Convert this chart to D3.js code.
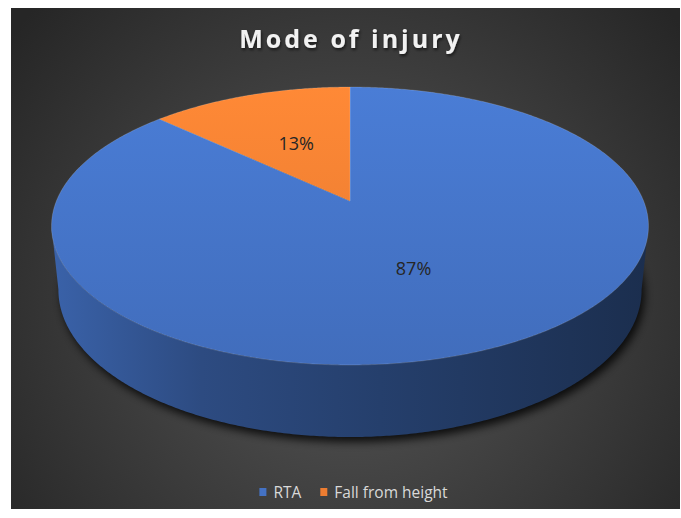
<!DOCTYPE html>
<html>
<head>
<meta charset="utf-8">
<script src="https://cdn.jsdelivr.net/npm/d3@7"></script>
<style>
  body { margin: 0; background: #ffffff; }
  svg { display: block; }
</style>
</head>
<body>
<div id="chart-area"></div>
<script>
// data
const categories = ["RTA", "Fall from height"];
const values = [87, 13];
const labels = ["87%", "13%"];
const colors = ["#4472C4", "#ED7D31"];
const title = "Mode of injury";

const width = 681, height = 518;

// perspective projection of the 3d pie (r = 1 at rim, depth 0 top / 1 bottom)
const cx = 350, cy = 201;
const D = 4.94, F = 1450.5, sinA = 0.458, cosA = Math.sqrt(1 - sinA * sinA), H = 0.247;
function project(theta, r, depth) {
  const u = r * Math.sin(theta), v = r * Math.cos(theta), hh = depth * H;
  const z = D + v * cosA + hh * sinA;
  return [cx + F * u / z, cy + F * (-v * sinA + hh * cosA) / z];
}
const step = Math.PI / 360;
function samples(a0, a1) {
  return d3.range(a0, a1, step).concat([a1]);
}

// silhouette angles of the rims (rightmost / leftmost point)
function extremes(depth) {
  const all = samples(0, 2 * Math.PI);
  const right = d3.greatest(all, t => project(t, 1, depth)[0]);
  const left = d3.least(all, t => project(t, 1, depth)[0]);
  return [right, left];
}
const topExt = extremes(0), botExt = extremes(1);

const svg = d3.select("#chart-area").append("svg")
  .attr("width", width)
  .attr("height", height);

const defs = svg.append("defs");

const bg = defs.append("radialGradient")
  .attr("id", "bg")
  .attr("gradientUnits", "userSpaceOnUse")
  .attr("cx", 350).attr("cy", 300).attr("r", 430);
bg.append("stop").attr("offset", "0%").attr("stop-color", "#585858");
bg.append("stop").attr("offset", "100%").attr("stop-color", "#262626");

defs.append("filter").attr("id", "blur")
  .attr("x", "-20%").attr("y", "-20%").attr("width", "140%").attr("height", "140%")
  .append("feGaussianBlur").attr("stdDeviation", 4);

const tsh = defs.append("filter").attr("id", "tshadow")
  .attr("x", "-10%").attr("y", "-30%").attr("width", "120%").attr("height", "160%");
tsh.append("feDropShadow").attr("dx", 1).attr("dy", 2).attr("stdDeviation", 1.5)
  .attr("flood-color", "#000").attr("flood-opacity", 0.6);

function shade(c, f) {
  const b = d3.rgb(c);
  return d3.rgb(b.r * f, b.g * f, b.b * f).toString();
}

colors.forEach((c, i) => {
  const g = defs.append("linearGradient")
    .attr("id", "top" + i)
    .attr("gradientUnits", "userSpaceOnUse")
    .attr("x1", 0).attr("y1", 87).attr("x2", 0).attr("y2", 365);
  g.append("stop").attr("offset", "0%").attr("stop-color", d3.color(c).brighter(0.25));
  g.append("stop").attr("offset", "100%").attr("stop-color", d3.color(c).darker(0.12));

  const s = defs.append("linearGradient")
    .attr("id", "side" + i)
    .attr("gradientUnits", "userSpaceOnUse")
    .attr("x1", 52).attr("y1", 0).attr("x2", 650).attr("y2", 0);
  s.append("stop").attr("offset", "0%").attr("stop-color", shade(c, 0.86));
  s.append("stop").attr("offset", "25%").attr("stop-color", shade(c, 0.66));
  s.append("stop").attr("offset", "55%").attr("stop-color", shade(c, 0.55));
  s.append("stop").attr("offset", "100%").attr("stop-color", shade(c, 0.4));
});

svg.append("rect")
  .attr("x", 11).attr("y", 8)
  .attr("width", 669).attr("height", 501)
  .attr("fill", "url(#bg)");

const pie = d3.pie().sort(null).value(d => d);
const arcs = pie(values);
const line = d3.line();

// shadow under the pie
const rim = samples(0, 2 * Math.PI).map(t => project(t, 1, 1));
svg.append("path")
  .attr("d", line(rim) + "Z")
  .attr("transform", "translate(3,5)")
  .attr("fill", "#000")
  .attr("opacity", 0.8)
  .attr("filter", "url(#blur)");

// visible side wall of each slice (front half only)
const sides = [];
arcs.forEach((a, i) => {
  const t0 = Math.max(a.startAngle, topExt[0]), t1 = Math.min(a.endAngle, topExt[1]);
  const b0 = Math.max(a.startAngle, botExt[0]), b1 = Math.min(a.endAngle, botExt[1]);
  if (t1 <= t0 || b1 <= b0) return;
  const pts = samples(t0, t1).map(t => project(t, 1, 0))
    .concat(samples(b0, b1).reverse().map(t => project(t, 1, 1)));
  sides.push({ i: i, pts: pts });
});

svg.append("g").selectAll("path")
  .data(sides)
  .enter().append("path")
  .attr("d", d => line(d.pts) + "Z")
  .attr("fill", d => "url(#side" + d.i + ")");

// top face
svg.append("g").selectAll("path")
  .data(arcs)
  .enter().append("path")
  .attr("d", d => line([project(0, 0, 0)].concat(samples(d.startAngle, d.endAngle).map(t => project(t, 1, 0)))) + "Z")
  .attr("fill", (d, i) => "url(#top" + i + ")")
  .attr("stroke", "rgba(255,255,255,0.25)")
  .attr("stroke-width", 0.6)
  .attr("stroke-linejoin", "round");

// data labels
svg.append("g").selectAll("text")
  .data(arcs)
  .enter().append("text")
  .attr("x", d => project((d.startAngle + d.endAngle) / 2, 0.5, 0)[0])
  .attr("y", d => project((d.startAngle + d.endAngle) / 2, 0.5, 0)[1])
  .attr("dy", "0.35em")
  .attr("text-anchor", "middle")
  .attr("font-family", "Open Sans, sans-serif")
  .attr("font-size", 18)
  .attr("fill", "#262626")
  .text((d, i) => labels[i]);

// title
svg.append("text")
  .attr("x", 351)
  .attr("y", 48)
  .attr("text-anchor", "middle")
  .attr("font-family", "Open Sans, sans-serif")
  .attr("font-weight", "bold")
  .attr("font-size", 25)
  .attr("letter-spacing", 3)
  .attr("fill", "#f2f2f2")
  .attr("filter", "url(#tshadow)")
  .text(title);

// legend
const legend = svg.append("g");
const items = legend.selectAll("g")
  .data(categories)
  .enter().append("g");
items.append("rect")
  .attr("width", 7).attr("height", 8)
  .attr("y", 488)
  .attr("fill", (d, i) => colors[i]);
items.append("text")
  .attr("y", 498)
  .attr("font-family", "Open Sans, sans-serif")
  .attr("font-size", 15.5)
  .attr("fill", "#d9d9d9")
  .text(d => d);

const widths = [];
items.each(function() {
  widths.push(d3.select(this).select("text").node().getComputedTextLength());
});
const total = d3.sum(widths) + widths.length * 14 + (widths.length - 1) * 19;
let xPos = 353.5 - total / 2;
items.each(function(d, i) {
  const g = d3.select(this);
  g.select("rect").attr("x", xPos);
  g.select("text").attr("x", xPos + 14);
  xPos += 14 + widths[i] + 19;
});
</script>
</body>
</html>
